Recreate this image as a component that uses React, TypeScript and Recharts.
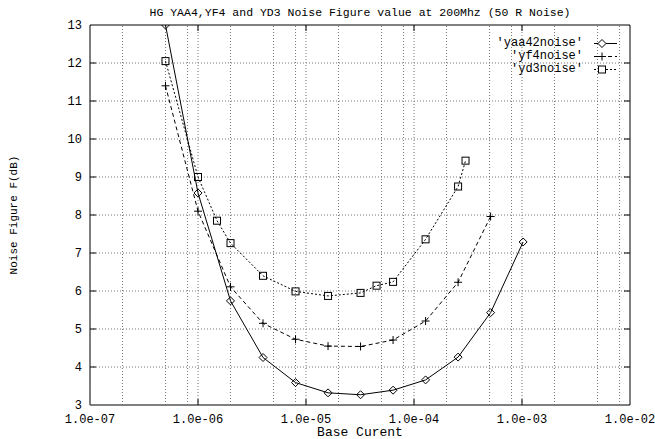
import React from "react";
import { LineChart, Line, XAxis, YAxis, ReferenceLine, ReferenceArea, Legend } from "recharts";

// ---- data ----
const yaa42X = [5e-7, 1e-6, 2e-6, 4e-6, 8e-6, 1.6e-5, 3.2e-5, 6.4e-5, 1.28e-4, 2.56e-4, 5.12e-4, 1.024e-3];
const yaa42Y = [13.0, 8.58, 5.74, 4.25, 3.59, 3.32, 3.27, 3.39, 3.66, 4.26, 5.43, 7.29];

const yf4X = [5e-7, 1e-6, 2e-6, 4e-6, 8e-6, 1.6e-5, 3.2e-5, 6.4e-5, 1.28e-4, 2.56e-4, 5.12e-4];
const yf4Y = [11.4, 8.1, 6.11, 5.15, 4.73, 4.55, 4.54, 4.71, 5.21, 6.23, 7.96];

const yd3X = [5e-7, 1e-6, 1.5e-6, 2e-6, 4e-6, 8e-6, 1.6e-5, 3.2e-5, 4.5e-5, 6.4e-5, 1.28e-4, 2.56e-4, 3e-4];
const yd3Y = [12.05, 9.0, 7.85, 7.26, 6.4, 5.99, 5.87, 5.95, 6.14, 6.24, 7.36, 8.75, 9.43];

const xTicks = [1e-7, 1e-6, 1e-5, 1e-4, 1e-3, 1e-2];
const yTicks = [3, 4, 5, 6, 7, 8, 9, 10, 11, 12, 13];
const gridMultipliers = [1, 2, 5, 8];

const seriesNames = ["'yaa42noise'", "'yf4noise'", "'yd3noise'"];
const title = "HG YAA4,YF4 and YD3 Noise Figure value at 200Mhz (50 R Noise)";
const xTitle = "Base Curent";
const yTitle = "Noise Figure F(dB)";

// ---- layout ----
const W = 655;
const H = 439;
const MARGIN = { top: 25, right: 25, left: 60, bottom: 4 };
const Y_AXIS_W = 30;
const X_AXIS_H = 30;
const PLOT_L = MARGIN.left + Y_AXIS_W;
const PLOT_R = W - MARGIN.right;
const PLOT_T = MARGIN.top;
const PLOT_B = H - MARGIN.bottom - X_AXIS_H;
const FONT = "'Liberation Mono', 'DejaVu Sans Mono', monospace";
const GRID_COLOR = "#777";

const toPts = (xs: number[], ys: number[]) => xs.map((x, i) => ({ x, y: ys[i] }));
const yaa42Data = toPts(yaa42X, yaa42Y);
const yf4Data = toPts(yf4X, yf4Y);
const yd3Data = toPts(yd3X, yd3Y);

const gridX: number[] = [];
xTicks.slice(0, -1).forEach((d) => gridMultipliers.forEach((m) => gridX.push(d * m)));
const gridY = yTicks.slice(1, -1);

const fmtExp = (v: number) =>
  v.toExponential(1).replace(/e([+-])(\d)$/, "e$10$2");

const diamondPath = (cx: number, cy: number, r = 4) =>
  `M${cx},${cy - r}L${cx + r},${cy}L${cx},${cy + r}L${cx - r},${cy}Z`;

const Diamond = (p: any) => {
  const { cx, cy } = p;
  if (cx == null || cy == null) return <g key={p.key} />;
  return <path key={p.key} d={diamondPath(cx, cy)} fill="none" stroke="#000" strokeWidth={1} />;
};
const Plus = (p: any) => {
  const { cx, cy } = p;
  if (cx == null || cy == null) return <g key={p.key} />;
  return (
    <path key={p.key} d={`M${cx - 4},${cy}H${cx + 4}M${cx},${cy - 4}V${cy + 4}`} fill="none" stroke="#000" strokeWidth={1} />
  );
};
const Square = (p: any) => {
  const { cx, cy } = p;
  if (cx == null || cy == null) return <g key={p.key} />;
  return <rect key={p.key} x={cx - 3.5} y={cy - 3.5} width={7} height={7} fill="none" stroke="#000" strokeWidth={1} />;
};

const XTick = (props: any) => {
  const { x, y, payload } = props;
  const c = payload.coordinate;
  const inner = c > PLOT_L + 1 && c < PLOT_R - 1;
  return (
    <g>
      {inner && <line x1={c} x2={c} y1={PLOT_B} y2={PLOT_B - 6} stroke="#000" />}
      {inner && <line x1={c} x2={c} y1={PLOT_T} y2={PLOT_T + 6} stroke="#000" />}
      <text x={x} y={y} dy="0.71em" textAnchor="middle" fontFamily={FONT} fontSize={12} fill="#000">
        {fmtExp(payload.value)}
      </text>
    </g>
  );
};

const YTick = (props: any) => {
  const { x, y, payload } = props;
  const c = payload.coordinate;
  const inner = c > PLOT_T + 1 && c < PLOT_B - 1;
  return (
    <g>
      {inner && <line x1={PLOT_L} x2={PLOT_L + 6} y1={c} y2={c} stroke="#000" />}
      {inner && <line x1={PLOT_R - 6} x2={PLOT_R} y1={c} y2={c} stroke="#000" />}
      <text x={x} y={y} dy="0.35em" textAnchor="end" fontFamily={FONT} fontSize={12} fill="#000">
        {payload.value}
      </text>
    </g>
  );
};

const legendSamples = [
  { dash: undefined, Marker: "diamond" },
  { dash: "4 3", Marker: "plus" },
  { dash: "2 2", Marker: "square" },
];

const LegendContent = () => (
  <div style={{ fontFamily: FONT, fontSize: 12, color: "#000" }}>
    {seriesNames.map((name, i) => {
      const s = legendSamples[i];
      return (
        <div
          key={name}
          style={{ display: "flex", alignItems: "center", justifyContent: "flex-end", height: 13, lineHeight: "13px" }}
        >
          <span style={{ whiteSpace: "pre" }}>{name}</span>
          <svg width={34} height={13} style={{ marginRight: 8, display: "block" }}>
            <line x1={11} x2={34} y1={6.5} y2={6.5} stroke="#000" strokeDasharray={s.dash} />
            {s.Marker === "diamond" && <path d={diamondPath(19, 6.5)} fill="#fff" stroke="#000" />}
            {s.Marker === "plus" && <path d="M15,6.5H23M19,2.5V10.5" stroke="#000" fill="none" />}
            {s.Marker === "square" && <rect x={15.5} y={3} width={7} height={7} fill="#fff" stroke="#000" />}
          </svg>
        </div>
      );
    })}
  </div>
);

export default function App() {
  return (
    <div style={{ position: "absolute", left: 0, top: 0, width: W, height: H, background: "#fff" }}>
      <LineChart width={W} height={H} margin={MARGIN}>
        <XAxis
          dataKey="x"
          type="number"
          scale="log"
          domain={[1e-7, 1e-2]}
          ticks={xTicks}
          allowDataOverflow
          height={X_AXIS_H}
          axisLine={false}
          tickLine={false}
          tickSize={6}
          tickMargin={3}
          tick={<XTick />}
          interval={0}
        />
        <YAxis
          type="number"
          domain={[3, 13]}
          ticks={yTicks}
          allowDataOverflow
          width={Y_AXIS_W}
          axisLine={false}
          tickLine={false}
          tickSize={6}
          tickMargin={2}
          tick={<YTick />}
          interval={0}
        />
        {gridX.map((v) => (
          <ReferenceLine key={"gx" + v} x={v} stroke={GRID_COLOR} strokeDasharray="1 2" />
        ))}
        {gridY.map((v) => (
          <ReferenceLine key={"gy" + v} y={v} stroke={GRID_COLOR} strokeDasharray="1 2" />
        ))}
        <ReferenceArea x1={1e-7} x2={1e-2} y1={3} y2={13} fill="none" stroke="#000" strokeWidth={1} />
        <Line
          data={yaa42Data}
          dataKey="y"
          name={seriesNames[0]}
          type="linear"
          stroke="#000"
          strokeWidth={1}
          dot={Diamond}
          isAnimationActive={false}
        />
        <Line
          data={yf4Data}
          dataKey="y"
          name={seriesNames[1]}
          type="linear"
          stroke="#000"
          strokeWidth={1}
          strokeDasharray="4 3"
          dot={Plus}
          isAnimationActive={false}
        />
        <Line
          data={yd3Data}
          dataKey="y"
          name={seriesNames[2]}
          type="linear"
          stroke="#000"
          strokeWidth={1}
          strokeDasharray="2 2"
          dot={Square}
          isAnimationActive={false}
        />
        <Legend
          layout="vertical"
          align="center"
          verticalAlign="middle"
          content={<LegendContent />}
          wrapperStyle={{ position: "absolute", left: 490, top: 37, width: 135, height: 39 }}
        />
      </LineChart>
      <svg
        width={W}
        height={H}
        style={{ position: "absolute", left: 0, top: 0, pointerEvents: "none" }}
      >
        <text x={(PLOT_L + PLOT_R) / 2} y={12} dy="0.35em" textAnchor="middle" fontFamily={FONT} fontSize={11.5} fill="#000">
          {title}
        </text>
        <text x={(PLOT_L + PLOT_R) / 2} y={431} dy="0.35em" textAnchor="middle" fontFamily={FONT} fontSize={13} fill="#000">
          {xTitle}
        </text>
        <text
          x={13}
          y={(PLOT_T + PLOT_B) / 2}
          dy="0.35em"
          textAnchor="middle"
          fontFamily={FONT}
          fontSize={11}
          fill="#000"
          transform={`rotate(-90 13 ${(PLOT_T + PLOT_B) / 2})`}
        >
          {yTitle}
        </text>
      </svg>
    </div>
  );
}
